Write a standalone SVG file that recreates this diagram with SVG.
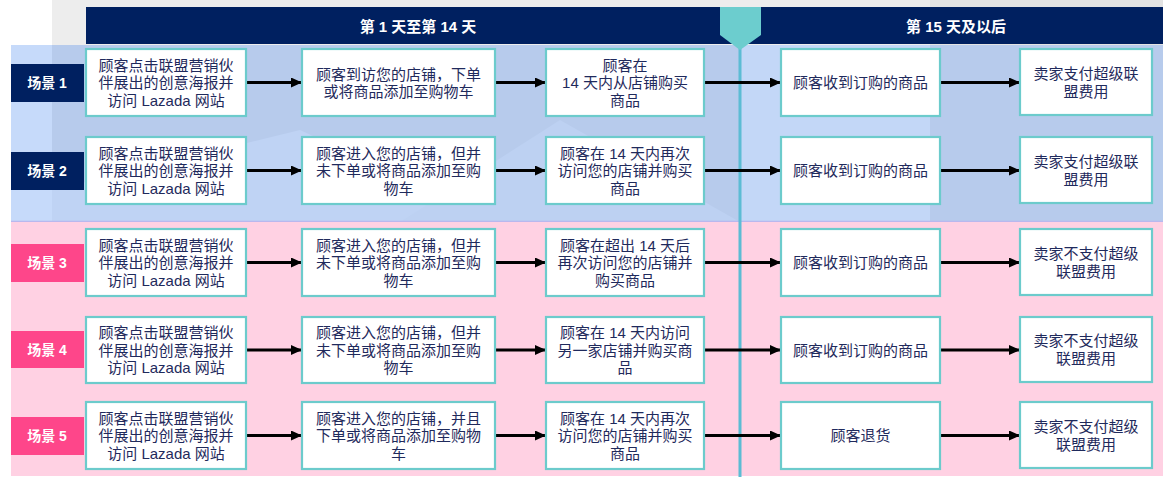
<svg xmlns="http://www.w3.org/2000/svg" width="1163" height="477" viewBox="0 0 1163 477">
<style>
.box{fill:#ffffff;stroke:#6ccbcc;stroke-width:2.2}
.t{font-family:"Liberation Sans","Noto Sans CJK SC",sans-serif;font-size:15px;fill:#1f2a5c;text-anchor:middle;dominant-baseline:central}
.lab{font-family:"Liberation Sans","Noto Sans CJK SC",sans-serif;font-size:14px;font-weight:bold;fill:#ffffff;text-anchor:middle;dominant-baseline:central}
.hd{font-family:"Liberation Sans","Noto Sans CJK SC",sans-serif;font-size:15px;font-weight:bold;fill:#ffffff;text-anchor:middle;dominant-baseline:central}
.arr{stroke:#000000;stroke-width:3;fill:none;marker-end:url(#ah)}
.navy{fill:#002060}
.pink{fill:#fe468a}
</style>
<defs>
<marker id="ah" markerUnits="userSpaceOnUse" markerWidth="12" markerHeight="10" refX="11" refY="5" orient="auto">
<path d="M0,0 L11,5 L0,10 Z" fill="#000000"/>
</marker>
</defs>

<g id="background">
<rect x="0" y="0" width="1163" height="477" fill="#ffffff"/>
<rect x="52" y="0" width="878" height="45" fill="#ededed"/>
<rect x="930" y="0" width="233" height="45" fill="#e3e3e3"/>
<rect x="11" y="45" width="1152" height="177" fill="#b7cbec"/>
<rect x="11" y="45" width="41" height="177" fill="#c6dafa"/>
<polygon points="52,190 300,130 500,222 52,222" fill="#bfd3f4"/>
<polygon points="740,45 930,45 930,222 740,222" fill="#c3d7f7"/>
<polygon points="400,222 560,120 740,222" fill="#bdd1f2"/>
<line x1="11" y1="221.5" x2="1163" y2="221.5" stroke="#b9b8ee" stroke-width="1.5"/>
<rect x="11" y="222" width="1152" height="254" fill="#ffd1e3"/>
</g>

<g id="header">
<rect x="86" y="7" width="1077" height="37" class="navy"/>
<text x="418" y="26" class="hd">第 1 天至第 14 天</text>
<text x="956" y="26" class="hd">第 15 天及以后</text>
</g>

<g id="divider">
<line x1="740" y1="45" x2="740" y2="477" stroke="#5cbcd4" stroke-width="3"/>
<polygon points="720,7 761,7 761,35 740,50 720,35" fill="#6ccdce"/>
</g>

<g id="labels">
<g id="label1"><rect x="11" y="64" width="73" height="38" class="navy"/><text x="47" y="83" class="lab">场景 1</text></g>
<g id="label2"><rect x="11" y="152" width="73" height="38" class="navy"/><text x="47" y="171" class="lab">场景 2</text></g>
<g id="label3"><rect x="11" y="244" width="73" height="38" class="pink"/><text x="47" y="263" class="lab">场景 3</text></g>
<g id="label4"><rect x="11" y="331" width="73" height="37" class="pink"/><text x="47" y="349.5" class="lab">场景 4</text></g>
<g id="label5"><rect x="11" y="417" width="73" height="38" class="pink"/><text x="47" y="436" class="lab">场景 5</text></g>
</g>

<g id="connectors">
<line x1="246" y1="82.5" x2="302" y2="82.5" class="arr"/>
<line x1="495" y1="82.5" x2="546" y2="82.5" class="arr"/>
<line x1="704" y1="82.5" x2="781" y2="82.5" class="arr"/>
<line x1="940" y1="82.5" x2="1020" y2="82.5" class="arr"/>

<line x1="246" y1="170.5" x2="302" y2="170.5" class="arr"/>
<line x1="495" y1="170.5" x2="546" y2="170.5" class="arr"/>
<line x1="704" y1="170.5" x2="781" y2="170.5" class="arr"/>
<line x1="940" y1="170.5" x2="1020" y2="170.5" class="arr"/>

<line x1="246" y1="262.5" x2="302" y2="262.5" class="arr"/>
<line x1="495" y1="262.5" x2="546" y2="262.5" class="arr"/>
<line x1="704" y1="262.5" x2="781" y2="262.5" class="arr"/>
<line x1="940" y1="262.5" x2="1020" y2="262.5" class="arr"/>

<line x1="246" y1="350" x2="302" y2="350" class="arr"/>
<line x1="495" y1="350" x2="546" y2="350" class="arr"/>
<line x1="704" y1="350" x2="781" y2="350" class="arr"/>
<line x1="940" y1="350" x2="1020" y2="350" class="arr"/>

<line x1="246" y1="435.5" x2="302" y2="435.5" class="arr"/>
<line x1="495" y1="435.5" x2="546" y2="435.5" class="arr"/>
<line x1="704" y1="435.5" x2="781" y2="435.5" class="arr"/>
<line x1="940" y1="435.5" x2="1020" y2="435.5" class="arr"/>
</g>

<!-- Row 1 -->
<g id="r1c1"><rect x="86" y="49" width="160" height="67" class="box"/>
<text x="166" y="65" class="t">顾客点击联盟营销伙</text><text x="166" y="82.5" class="t">伴展出的创意海报并</text><text x="166" y="100" class="t">访问 Lazada 网站</text></g>
<g id="r1c2"><rect x="302" y="49" width="193" height="67" class="box"/>
<text x="398.5" y="74" class="t">顾客到访您的店铺，下单</text><text x="398.5" y="91.5" class="t">或将商品添加至购物车</text></g>
<g id="r1c3"><rect x="546" y="49" width="158" height="67" class="box"/>
<text x="625" y="65" class="t">顾客在</text><text x="625" y="82.5" class="t">14 天内从店铺购买</text><text x="625" y="100" class="t">商品</text></g>
<g id="r1c4"><rect x="781" y="49" width="159" height="67" class="box"/>
<text x="860.5" y="82.5" class="t">顾客收到订购的商品</text></g>
<g id="r1c5"><rect x="1020" y="49" width="132" height="66" class="box"/>
<text x="1086" y="73" class="t">卖家支付超级联</text><text x="1086" y="91" class="t">盟费用</text></g>

<!-- Row 2 -->
<g id="r2c1"><rect x="86" y="137" width="160" height="67" class="box"/>
<text x="166" y="153" class="t">顾客点击联盟营销伙</text><text x="166" y="170.5" class="t">伴展出的创意海报并</text><text x="166" y="188" class="t">访问 Lazada 网站</text></g>
<g id="r2c2"><rect x="302" y="137" width="193" height="67" class="box"/>
<text x="398.5" y="153" class="t">顾客进入您的店铺，但并</text><text x="398.5" y="170.5" class="t">未下单或将商品添加至购</text><text x="398.5" y="188" class="t">物车</text></g>
<g id="r2c3"><rect x="546" y="137" width="158" height="67" class="box"/>
<text x="625" y="153" class="t">顾客在 14 天内再次</text><text x="625" y="170.5" class="t">访问您的店铺并购买</text><text x="625" y="188" class="t">商品</text></g>
<g id="r2c4"><rect x="781" y="137" width="159" height="67" class="box"/>
<text x="860.5" y="170.5" class="t">顾客收到订购的商品</text></g>
<g id="r2c5"><rect x="1020" y="137" width="132" height="66" class="box"/>
<text x="1086" y="161" class="t">卖家支付超级联</text><text x="1086" y="179" class="t">盟费用</text></g>

<!-- Row 3 -->
<g id="r3c1"><rect x="86" y="229" width="160" height="67" class="box"/>
<text x="166" y="245" class="t">顾客点击联盟营销伙</text><text x="166" y="262.5" class="t">伴展出的创意海报并</text><text x="166" y="280" class="t">访问 Lazada 网站</text></g>
<g id="r3c2"><rect x="302" y="229" width="193" height="67" class="box"/>
<text x="398.5" y="245" class="t">顾客进入您的店铺，但并</text><text x="398.5" y="262.5" class="t">未下单或将商品添加至购</text><text x="398.5" y="280" class="t">物车</text></g>
<g id="r3c3"><rect x="546" y="229" width="158" height="67" class="box"/>
<text x="625" y="245" class="t">顾客在超出 14 天后</text><text x="625" y="262.5" class="t">再次访问您的店铺并</text><text x="625" y="280" class="t">购买商品</text></g>
<g id="r3c4"><rect x="781" y="229" width="159" height="67" class="box"/>
<text x="860.5" y="262.5" class="t">顾客收到订购的商品</text></g>
<g id="r3c5"><rect x="1020" y="229" width="132" height="66" class="box"/>
<text x="1086" y="253" class="t">卖家不支付超级</text><text x="1086" y="271" class="t">联盟费用</text></g>

<!-- Row 4 -->
<g id="r4c1"><rect x="86" y="317" width="160" height="66" class="box"/>
<text x="166" y="332.5" class="t">顾客点击联盟营销伙</text><text x="166" y="350" class="t">伴展出的创意海报并</text><text x="166" y="367.5" class="t">访问 Lazada 网站</text></g>
<g id="r4c2"><rect x="302" y="317" width="193" height="66" class="box"/>
<text x="398.5" y="332.5" class="t">顾客进入您的店铺，但并</text><text x="398.5" y="350" class="t">未下单或将商品添加至购</text><text x="398.5" y="367.5" class="t">物车</text></g>
<g id="r4c3"><rect x="546" y="317" width="158" height="66" class="box"/>
<text x="625" y="332.5" class="t">顾客在 14 天内访问</text><text x="625" y="350" class="t">另一家店铺并购买商</text><text x="625" y="367.5" class="t">品</text></g>
<g id="r4c4"><rect x="781" y="317" width="159" height="66" class="box"/>
<text x="860.5" y="350" class="t">顾客收到订购的商品</text></g>
<g id="r4c5"><rect x="1020" y="317" width="132" height="65" class="box"/>
<text x="1086" y="340" class="t">卖家不支付超级</text><text x="1086" y="358" class="t">联盟费用</text></g>

<!-- Row 5 -->
<g id="r5c1"><rect x="86" y="402" width="160" height="67" class="box"/>
<text x="166" y="418" class="t">顾客点击联盟营销伙</text><text x="166" y="435.5" class="t">伴展出的创意海报并</text><text x="166" y="453" class="t">访问 Lazada 网站</text></g>
<g id="r5c2"><rect x="302" y="402" width="193" height="67" class="box"/>
<text x="398.5" y="418" class="t">顾客进入您的店铺，并且</text><text x="398.5" y="435.5" class="t">下单或将商品添加至购物</text><text x="398.5" y="453" class="t">车</text></g>
<g id="r5c3"><rect x="546" y="402" width="158" height="67" class="box"/>
<text x="625" y="418" class="t">顾客在 14 天内再次</text><text x="625" y="435.5" class="t">访问您的店铺并购买</text><text x="625" y="453" class="t">商品</text></g>
<g id="r5c4"><rect x="781" y="402" width="159" height="67" class="box"/>
<text x="860.5" y="435.5" class="t">顾客退货</text></g>
<g id="r5c5"><rect x="1020" y="402" width="132" height="66" class="box"/>
<text x="1086" y="426" class="t">卖家不支付超级</text><text x="1086" y="444" class="t">联盟费用</text></g>
</svg>
